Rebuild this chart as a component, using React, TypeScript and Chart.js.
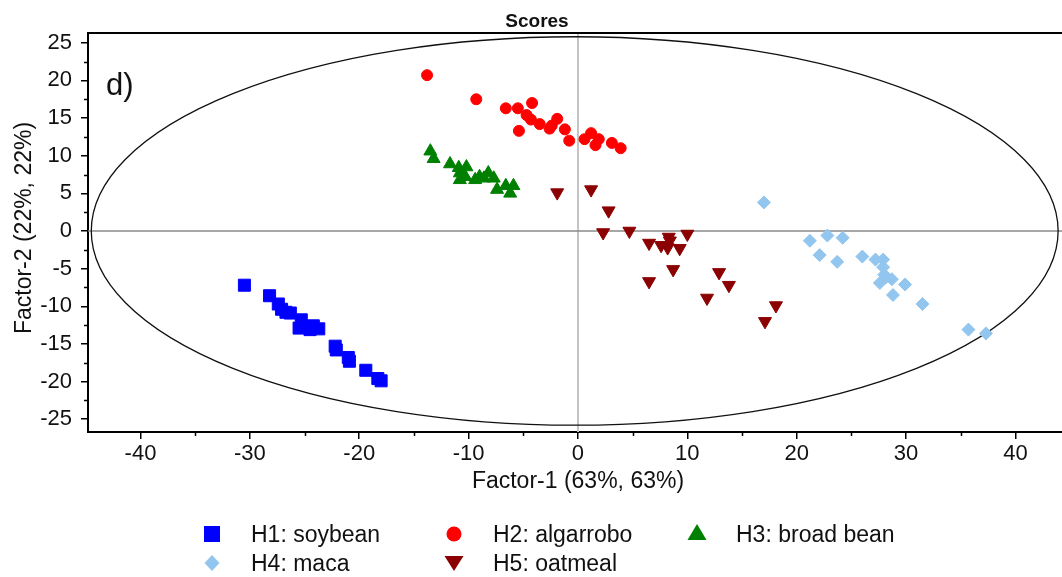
import React, { useEffect, useRef } from 'react';
import { Chart, registerables } from 'chart.js';

Chart.register(...registerables);

// ---------- data ----------
const soybeanX = [-30.5, -28.2, -27.4, -27.1, -26.7, -26.3, -25.3, -25.5, -24.5, -23.7, -24.2, -22.2, -22.1, -21.0, -20.9, -19.4, -18.3, -18.0];
const soybeanY = [-7.2, -8.6, -9.7, -10.4, -10.8, -10.9, -11.8, -12.9, -13.1, -13.0, -12.6, -15.3, -15.8, -16.8, -17.3, -18.5, -19.6, -19.9];

const algarroboX = [-13.8, -9.3, -6.6, -5.5, -4.2, -4.7, -4.3, -3.5, -5.4, -2.6, -1.9, -1.2, -0.8, 0.6, 1.2, 1.9, 1.6, 3.1, 3.9, -2.4];
const algarroboY = [20.7, 17.5, 16.3, 16.3, 17.0, 15.4, 14.8, 14.2, 13.3, 13.6, 14.9, 13.5, 12.0, 12.2, 13.0, 12.2, 11.4, 11.7, 11.0, 14.0];

const broadBeanX = [-13.5, -13.2, -11.7, -10.9, -10.2, -10.8, -10.8, -10.3, -9.4, -9.0, -8.2, -8.6, -7.7, -7.4, -6.6, -5.9, -6.2];
const broadBeanY = [10.6, 9.6, 8.9, 8.4, 8.5, 7.7, 6.8, 7.2, 6.8, 7.2, 7.7, 7.0, 7.0, 5.5, 6.0, 6.0, 5.0];

const macaX = [17.0, 21.2, 22.8, 24.2, 22.1, 23.7, 26.0, 27.2, 27.9, 27.9, 28.0, 28.2, 28.7, 27.6, 29.9, 28.8, 31.5, 35.7, 37.3];
const macaY = [3.8, -1.3, -0.6, -0.9, -3.2, -4.1, -3.4, -3.8, -3.8, -4.8, -5.8, -6.1, -6.4, -6.9, -7.1, -8.5, -9.7, -13.1, -13.6];

const oatmealX = [-1.9, 1.2, 2.8, 2.3, 4.7, 6.5, 6.5, 7.6, 8.3, 8.2, 8.4, 9.3, 10.0, 8.7, 12.9, 13.8, 11.8, 18.1, 17.1];
const oatmealY = [5.1, 5.5, 2.7, -0.2, 0.0, -1.6, -6.7, -1.9, -0.8, -2.2, -1.3, -2.3, -0.4, -5.1, -5.5, -7.2, -8.9, -9.9, -12.0];

const seriesNames = ['H1: soybean', 'H2: algarrobo', 'H3: broad bean', 'H4: maca', 'H5: oatmeal'];

const xRange = [-44.8, 44.3];
const yRange = [-26.7, 26.3];
const xMinorTicks = [-35, -25, -15, -5, 5, 15, 25, 35];
const yMinorTicks = [-22.5, -17.5, -12.5, -7.5, -2.5, 2.5, 7.5, 12.5, 17.5, 22.5];

const ellipseCenter = [-0.3, 0];
const ellipseRadii = [44.2, 25.8];

const chartTitle = 'Scores';
const panelLabel = 'd)';
const xTitle = 'Factor-1 (63%, 63%)';
const yTitle = 'Factor-2 (22%, 22%)';

const FONT = '"Liberation Sans", Arial, sans-serif';

const colors = {
  soybean: '#0000ff',
  algarrobo: '#ff0000',
  broadBean: '#008000',
  maca: '#92c6ef',
  oatmeal: '#8b0000',
};

const CANVAS_W = 1072;
const CANVAS_H = 577;

function pts(xs: number[], ys: number[]) {
  return xs.map((x, i) => ({ x, y: ys[i] }));
}

function drawMarker(ctx: CanvasRenderingContext2D, kind: string, x: number, y: number, color: string) {
  ctx.fillStyle = color;
  ctx.beginPath();
  if (kind === 'square') {
    ctx.rect(x - 8, y - 8, 16, 16);
  } else if (kind === 'circle') {
    ctx.arc(x, y, 7.5, 0, Math.PI * 2);
  } else if (kind === 'triangle') {
    ctx.moveTo(x, y - 9);
    ctx.lineTo(x + 9.5, y + 7);
    ctx.lineTo(x - 9.5, y + 7);
    ctx.closePath();
  } else if (kind === 'diamond') {
    ctx.moveTo(x, y - 8);
    ctx.lineTo(x + 7.5, y);
    ctx.lineTo(x, y + 8);
    ctx.lineTo(x - 7.5, y);
    ctx.closePath();
  } else if (kind === 'invtriangle') {
    ctx.moveTo(x - 9.5, y - 7);
    ctx.lineTo(x + 9.5, y - 7);
    ctx.lineTo(x, y + 8);
    ctx.closePath();
  }
  ctx.fill();
}

const decorPlugin = {
  id: 'decor',
  beforeDatasetsDraw(chart: any) {
    const { ctx, chartArea: a, scales } = chart;
    const x = scales.x;
    const y = scales.y;
    ctx.save();
    ctx.beginPath();
    ctx.rect(a.left, a.top, a.right - a.left, a.bottom - a.top);
    ctx.clip();
    const x0 = x.getPixelForValue(0);
    const y0 = y.getPixelForValue(0);
    ctx.strokeStyle = '#c4c4c4';
    ctx.lineWidth = 2;
    ctx.beginPath();
    ctx.moveTo(x0, a.top);
    ctx.lineTo(x0, a.bottom);
    ctx.stroke();
    ctx.strokeStyle = '#8a8a8a';
    ctx.lineWidth = 1.5;
    ctx.beginPath();
    ctx.moveTo(a.left, y0);
    ctx.lineTo(a.right, y0);
    ctx.stroke();
    const cx = x.getPixelForValue(ellipseCenter[0]);
    const cy = y.getPixelForValue(ellipseCenter[1]);
    const rx = Math.abs(x.getPixelForValue(ellipseCenter[0] + ellipseRadii[0]) - cx);
    const ry = Math.abs(y.getPixelForValue(ellipseCenter[1] + ellipseRadii[1]) - cy);
    ctx.strokeStyle = '#111';
    ctx.lineWidth = 1.3;
    ctx.beginPath();
    ctx.ellipse(cx, cy, rx, ry, 0, 0, Math.PI * 2);
    ctx.stroke();
    ctx.restore();
  },
  afterDraw(chart: any) {
    const { ctx, chartArea: a, scales } = chart;
    const x = scales.x;
    const y = scales.y;
    ctx.save();
    // top frame
    ctx.strokeStyle = '#000';
    ctx.lineWidth = 2;
    ctx.beginPath();
    ctx.moveTo(a.left - 1, a.top);
    ctx.lineTo(a.right, a.top);
    ctx.stroke();
    // minor ticks
    ctx.lineWidth = 1.5;
    ctx.beginPath();
    yMinorTicks.forEach((v) => {
      const py = Math.round(y.getPixelForValue(v)) + 0.5;
      ctx.moveTo(a.left - 4, py);
      ctx.lineTo(a.left, py);
    });
    xMinorTicks.forEach((v) => {
      const px = Math.round(x.getPixelForValue(v)) + 0.5;
      ctx.moveTo(px, a.bottom);
      ctx.lineTo(px, a.bottom + 4);
    });
    ctx.stroke();

    ctx.fillStyle = '#111';
    ctx.textBaseline = 'alphabetic';
    // title
    ctx.font = `bold 19px ${FONT}`;
    ctx.textAlign = 'center';
    ctx.fillText(chartTitle, 537, 27);
    // panel label
    ctx.font = `31px ${FONT}`;
    ctx.textAlign = 'left';
    ctx.fillText(panelLabel, 106, 95);
    // x title
    ctx.font = `23px ${FONT}`;
    ctx.textAlign = 'center';
    ctx.fillText(xTitle, x.getPixelForValue(0), 488);
    // y title
    ctx.save();
    ctx.translate(31, 228);
    ctx.rotate(-Math.PI / 2);
    ctx.fillText(yTitle, 0, 0);
    ctx.restore();

    // legend
    const legend = [
      { kind: 'square', color: colors.soybean, mx: 212, my: 534, tx: 251, ty: 542, label: seriesNames[0] },
      { kind: 'circle', color: colors.algarrobo, mx: 454, my: 534, tx: 493, ty: 542, label: seriesNames[1] },
      { kind: 'triangle', color: colors.broadBean, mx: 697, my: 533, tx: 736, ty: 542, label: seriesNames[2] },
      { kind: 'diamond', color: colors.maca, mx: 212, my: 563, tx: 251, ty: 571, label: seriesNames[3] },
      { kind: 'invtriangle', color: colors.oatmeal, mx: 454, my: 563, tx: 493, ty: 571, label: seriesNames[4] },
    ];
    legend.forEach((l) => {
      drawMarker(ctx, l.kind, l.mx, l.my, l.color);
      ctx.fillStyle = '#111';
      ctx.textAlign = 'left';
      ctx.font = `23px ${FONT}`;
      ctx.fillText(l.label, l.tx, l.ty);
    });
    ctx.restore();
  },
};

export default function App() {
  const ref = useRef<HTMLCanvasElement | null>(null);
  useEffect(() => {
    if (!ref.current) return;
    const chart = new Chart(ref.current, {
      type: 'scatter',
      data: {
        datasets: [
          {
            label: seriesNames[0],
            data: pts(soybeanX, soybeanY),
            pointStyle: 'rect',
            pointRadius: 8.5,
            backgroundColor: colors.soybean,
            borderColor: colors.soybean,
            borderWidth: 1,
          },
          {
            label: seriesNames[1],
            data: pts(algarroboX, algarroboY),
            pointStyle: 'circle',
            pointRadius: 5.5,
            backgroundColor: colors.algarrobo,
            borderColor: colors.algarrobo,
            borderWidth: 1,
          },
          {
            label: seriesNames[2],
            data: pts(broadBeanX, broadBeanY),
            pointStyle: 'triangle',
            pointRadius: 7.5,
            backgroundColor: colors.broadBean,
            borderColor: colors.broadBean,
            borderWidth: 1,
          },
          {
            label: seriesNames[3],
            data: pts(macaX, macaY),
            pointStyle: 'rectRot',
            pointRadius: 6.5,
            backgroundColor: colors.maca,
            borderColor: colors.maca,
            borderWidth: 1,
          },
          {
            label: seriesNames[4],
            data: pts(oatmealX, oatmealY),
            pointStyle: 'triangle',
            rotation: 180,
            pointRadius: 7.5,
            backgroundColor: colors.oatmeal,
            borderColor: colors.oatmeal,
            borderWidth: 1,
          },
        ],
      },
      options: {
        animation: false,
        responsive: false,
        maintainAspectRatio: false,
        layout: { padding: { top: 33, left: 0, right: 0, bottom: 95 } },
        plugins: {
          legend: { display: false },
          title: { display: false },
          tooltip: { enabled: false },
        },
        scales: {
          x: {
            type: 'linear',
            position: 'bottom',
            min: xRange[0],
            max: xRange[1],
            afterFit: (s: any) => { s.height = 50; s.paddingLeft = 0; s.paddingRight = 0; },
            border: { display: true, color: '#000', width: 2 },
            grid: { display: true, drawOnChartArea: false, drawTicks: true, tickLength: 7, color: '#000', lineWidth: 1.5 },
            ticks: { stepSize: 10, includeBounds: false, color: '#111', padding: 2, font: { family: FONT, size: 22 }, maxRotation: 0 },
          },
          y: {
            type: 'linear',
            position: 'left',
            min: yRange[0],
            max: yRange[1],
            afterFit: (s: any) => { s.width = 88; s.paddingTop = 0; s.paddingBottom = 0; },
            border: { display: true, color: '#000', width: 2 },
            grid: { display: true, drawOnChartArea: false, drawTicks: true, tickLength: 7, color: '#000', lineWidth: 1.5 },
            ticks: { stepSize: 5, includeBounds: false, color: '#111', padding: 9, font: { family: FONT, size: 22 } },
          },
        },
      },
      plugins: [decorPlugin],
    } as any);
    return () => chart.destroy();
  }, []);
  return (
    <div style={{ position: 'absolute', left: 0, top: 0, width: 1062, height: 577, overflow: 'hidden', background: '#fff' }}>
      <canvas ref={ref} width={CANVAS_W} height={CANVAS_H} style={{ display: 'block', width: CANVAS_W, height: CANVAS_H }} />
    </div>
  );
}
